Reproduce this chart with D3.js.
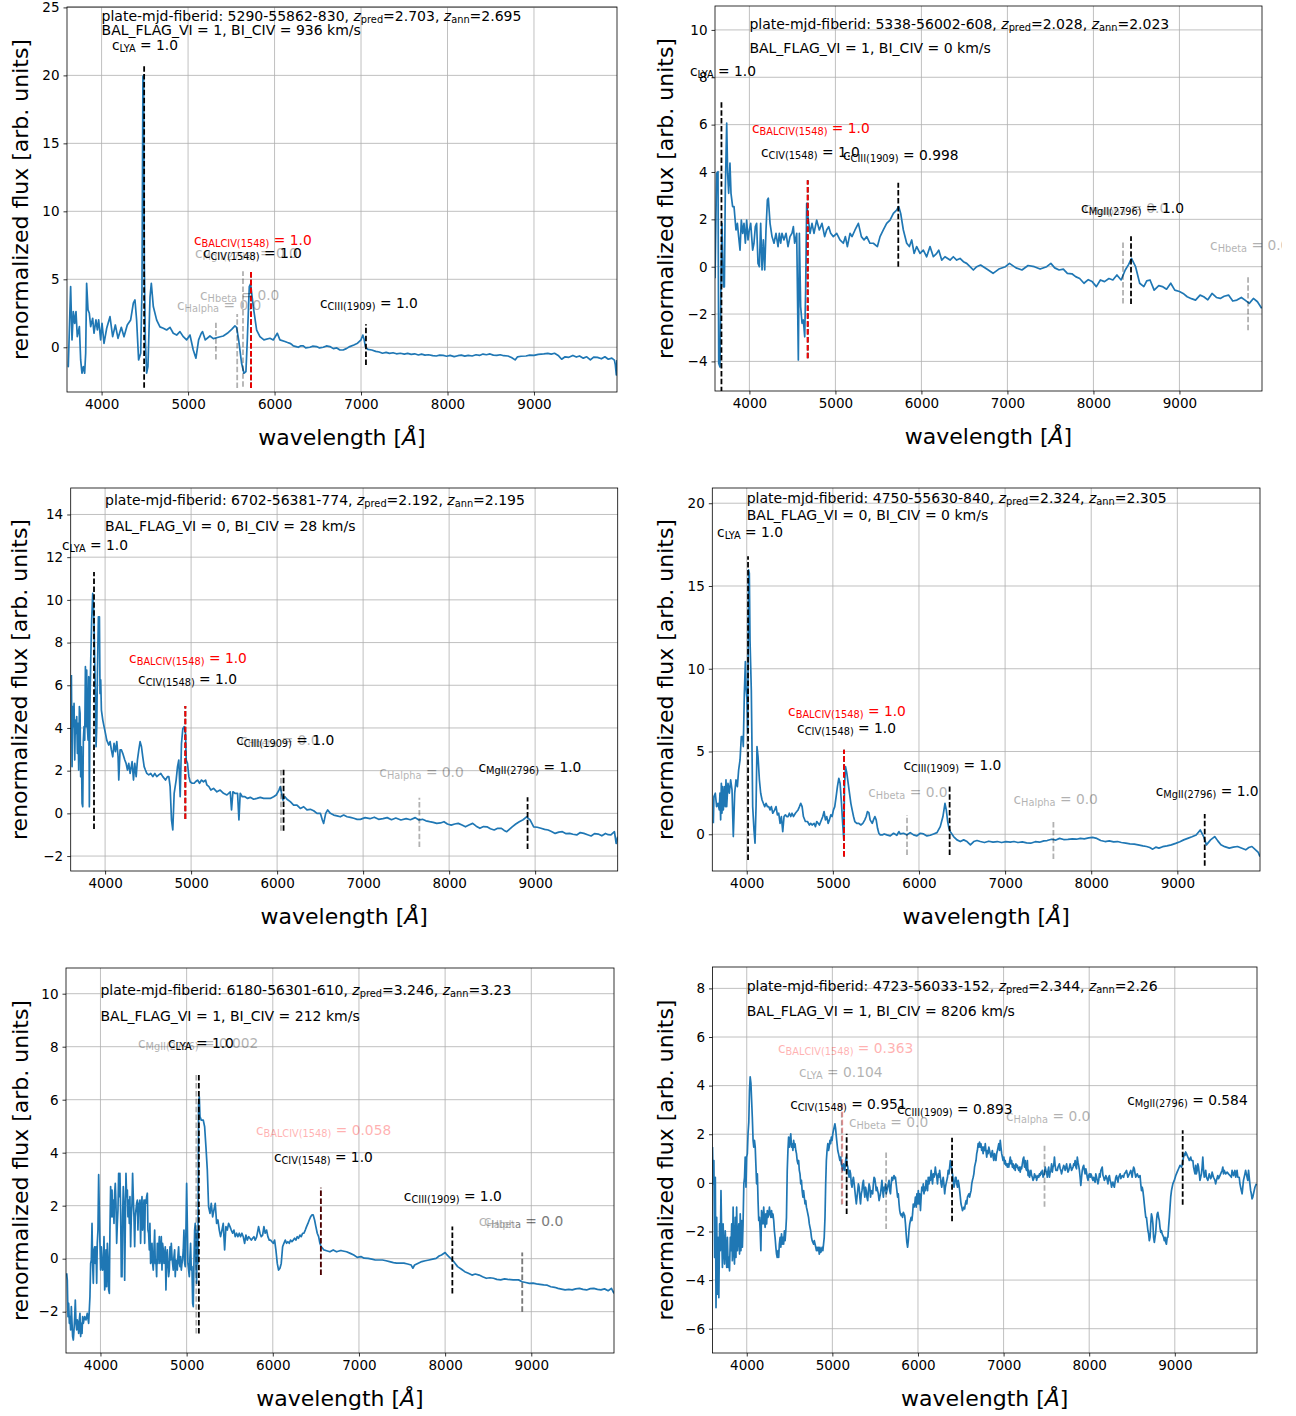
<!DOCTYPE html>
<html>
<head>
<meta charset="utf-8">
<script src="https://cdn.jsdelivr.net/npm/d3@7"></script>
<style>
  body { margin: 0; background: #fff; }
  text { font-family: "DejaVu Sans", sans-serif; }
</style>
</head>
<body>
<svg id="fig" width="1296" height="1416"></svg>
<script>
// ---- data ----
var plateIds = ["5290-55862-830", "5338-56002-608", "6702-56381-774", "4750-55630-840", "6180-56301-610", "4723-56033-152"];
var zPred = ["2.703", "2.028", "2.192", "2.324", "3.246", "2.344"];
var zAnn = ["2.695", "2.023", "2.195", "2.305", "3.23", "2.26"];
var balFlag = [1, 1, 0, 0, 1, 1];
var biCiv = [936, 0, 28, 0, 212, 8206];

var xTicks = [4000, 5000, 6000, 7000, 8000, 9000];
var yTicks1 = [0, 5, 10, 15, 20, 25];
var yTicks2 = [-4, -2, 0, 2, 4, 6, 8, 10];
var yTicks3 = [-2, 0, 2, 4, 6, 8, 10, 12, 14];
var yTicks4 = [0, 5, 10, 15, 20];
var yTicks5 = [-2, 0, 2, 4, 6, 8, 10];
var yTicks6 = [-6, -4, -2, 0, 2, 4, 6, 8];

// [wavelength, flux]
var spec1 = [[3610,-1.4],[3615,-1.42],[3642,4.46],[3658,0.54],[3673,2.62],[3689,1.76],[3704,2.62],[3719,0.78],[3743,1.52],[3758,-0.93],[3773,-1.91],[3789,-1.42],[3804,-1.91],[3816,-0.44],[3827,4.71],[3843,2.75],[3858,2.5],[3874,1.52],[3897,2.13],[3912,1.03],[3935,2.01],[3951,1.27],[3966,2.01],[3989,0.54],[4005,1.76],[4028,0.29],[4059,1.4],[4097,2.25],[4128,0.78],[4159,1.64],[4190,0.66],[4228,1.47],[4259,0.78],[4297,1.64],[4336,2.01],[4367,3.24],[4386,3.48],[4405,2.01],[4428,-0.93],[4452,-0.44],[4467,4.2],[4478,19.9],[4486,20.0],[4494,6.0],[4506,0.5],[4521,-1.9],[4536,-1.42],[4560,3.7],[4575,4.7],[4598,3.0],[4637,2.0],[4675,1.5],[4714,1.4],[4752,1.27],[4791,1.47],[4829,1.03],[4868,0.9],[4906,1.15],[4945,0.78],[4983,0.54],[5022,0.9],[5060,-0.2],[5091,-0.8],[5122,0.54],[5153,1.03],[5168,1.15],[5199,0.54],[5253,0.83],[5292,0.64],[5350,0.74],[5407,0.83],[5454,1.03],[5504,1.32],[5542,1.57],[5561,1.47],[5585,0.54],[5619,-1.18],[5646,-1.91],[5669,-1.79],[5685,0.54],[5708,4.46],[5723,4.66],[5754,2.99],[5793,1.27],[5831,0.78],[5877,0.54],[5947,0.66],[5985,0.54],[6032,1.03],[6062,0.54],[6120,0.42],[6150,0.35],[6178,0.29],[6200,0.2],[6217,0.1],[6250,0.05],[6274,0],[6300,0.1],[6332,0.1],[6360,-0.05],[6409,0],[6440,0.08],[6486,0.05],[6520,-0.05],[6563,0],[6600,0.1],[6640,0.05],[6680,-0.1],[6720,-0.05],[6756,-0.2],[6793,-0.2],[6830,-0.1],[6870,0.05],[6917,0.17],[6960,0.3],[7000,0.55],[7021,0.9],[7035,0.6],[7050,0.04],[7080,-0.15],[7124,-0.2],[7170,-0.3],[7210,-0.35],[7248,-0.44],[7290,-0.38],[7330,-0.45],[7370,-0.4],[7410,-0.48],[7455,-0.44],[7500,-0.5],[7540,-0.45],[7580,-0.52],[7620,-0.48],[7663,-0.57],[7700,-0.5],[7740,-0.58],[7780,-0.55],[7830,-0.62],[7870,-0.64],[7910,-0.58],[7950,-0.6],[7990,-0.66],[8030,-0.6],[8077,-0.69],[8120,-0.62],[8160,-0.58],[8200,-0.65],[8240,-0.6],[8285,-0.64],[8330,-0.55],[8370,-0.6],[8410,-0.5],[8450,-0.55],[8492,-0.49],[8530,-0.58],[8570,-0.6],[8610,-0.55],[8650,-0.62],[8699,-0.64],[8740,-0.75],[8782,-0.93],[8810,-0.7],[8850,-0.66],[8907,-0.64],[8950,-0.58],[9000,-0.6],[9050,-0.52],[9114,-0.49],[9160,-0.45],[9200,-0.5],[9238,-0.44],[9280,-0.6],[9320,-0.88],[9360,-0.7],[9403,-0.74],[9450,-0.6],[9490,-0.72],[9527,-0.64],[9570,-0.8],[9610,-0.7],[9652,-0.93],[9690,-0.72],[9734,-0.74],[9780,-0.85],[9820,-0.7],[9859,-0.88],[9900,-0.8],[9930,-0.95],[9941,-1.3],[9952,-2.04],[9960,-0.93]];

var spec2 = [[3600,-0.49],[3619,3.94],[3635,4.01],[3643,-4.08],[3658,-4.23],[3670,-0.42],[3681,1.83],[3697,-0.85],[3709,-0.85],[3720,3.24],[3736,6.06],[3747,3.94],[3759,3.1],[3774,4.37],[3786,3.1],[3805,2.54],[3821,2.54],[3844,1.55],[3860,1.83],[3875,1.27],[3891,0.7],[3906,1.97],[3922,1.41],[3937,1.83],[3953,0.99],[3968,1.97],[3984,1.13],[3999,1.55],[4015,1.83],[4038,0.7],[4053,0.99],[4069,1.69],[4084,1.83],[4100,0.14],[4116,0],[4131,1.83],[4147,-0.14],[4162,1.13],[4178,-0.14],[4193,1.55],[4209,2.82],[4220,2.89],[4240,1.83],[4263,1.27],[4286,0.99],[4309,1.41],[4333,0.85],[4348,1.41],[4364,0.99],[4379,1.41],[4402,1.13],[4426,1.41],[4449,0.85],[4472,1.27],[4495,1.41],[4511,1.69],[4526,0.99],[4550,1.41],[4569,-3.94],[4581,1.41],[4596,-1.69],[4612,-2.39],[4627,-2.25],[4643,-2.96],[4654,-0.99],[4666,2.68],[4681,2.11],[4705,1.41],[4728,1.83],[4751,1.41],[4782,1.97],[4813,1.55],[4844,1.83],[4875,1.27],[4898,1.55],[4922,1.69],[4945,1.41],[4976,1.27],[5015,1.41],[5053,1.13],[5092,0.99],[5116,1.27],[5139,0.85],[5170,1.41],[5193,1.27],[5228,1.55],[5267,1.83],[5302,1.27],[5333,1.13],[5364,1.27],[5402,0.99],[5441,0.99],[5488,0.85],[5519,1.27],[5557,1.55],[5596,1.83],[5635,1.97],[5674,2.25],[5712,2.39],[5736,2.54],[5759,2.25],[5790,1.55],[5829,0.99],[5860,0.85],[5887,1.13],[5915,0.56],[5945,0.85],[5984,0.56],[6022,0.7],[6061,0.42],[6100,0.85],[6139,0.42],[6178,0.56],[6201,0.7],[6236,0.28],[6274,0.42],[6333,0.28],[6371,0.42],[6410,0.28],[6449,0.35],[6488,0.21],[6526,0.14],[6565,0],[6604,-0.14],[6643,0],[6688,0.07],[6760,-0.1],[6833,-0.28],[6900,-0.1],[6977,0],[7024,0.14],[7100,-0.05],[7169,-0.14],[7240,0.05],[7313,0],[7380,-0.1],[7457,0],[7505,0.14],[7550,-0.05],[7601,-0.14],[7650,-0.1],[7697,-0.28],[7750,-0.3],[7793,-0.42],[7840,-0.5],[7890,-0.7],[7940,-0.55],[7985,-0.63],[8034,-0.84],[8081,-0.56],[8129,-0.63],[8180,-0.5],[8226,-0.56],[8273,-0.35],[8322,-0.56],[8370,-0.14],[8410,0.1],[8442,0.35],[8490,0],[8538,-0.7],[8586,-0.84],[8620,-0.6],[8658,-0.56],[8706,-0.99],[8760,-0.8],[8802,-0.84],[8850,-0.95],[8899,-0.7],[8946,-0.99],[9000,-1.05],[9043,-1.13],[9090,-1.27],[9140,-1.35],[9187,-1.41],[9240,-1.2],[9283,-1.27],[9330,-1.4],[9379,-1.13],[9430,-1.3],[9475,-1.34],[9520,-1.25],[9571,-1.2],[9620,-1.45],[9668,-1.41],[9720,-1.3],[9763,-1.41],[9812,-1.55],[9860,-1.34],[9907,-1.48],[9956,-1.76]];

var spec3 = [[3608,6.48],[3616,2.19],[3623,5.0],[3631,4.06],[3639,5.15],[3647,2.5],[3654,4.37],[3662,3.75],[3670,4.53],[3678,2.81],[3685,4.22],[3693,2.03],[3701,5.0],[3709,4.68],[3716,1.72],[3724,3.12],[3732,0.47],[3740,0.31],[3747,3.43],[3755,4.06],[3763,3.43],[3771,6.87],[3779,4.06],[3786,6.71],[3794,4.06],[3802,3.43],[3810,6.4],[3817,0.31],[3825,5.31],[3833,7.18],[3844,9.06],[3856,10.3],[3864,9.84],[3872,8.74],[3879,7.18],[3887,5.62],[3895,3.12],[3903,4.06],[3910,6.4],[3922,9.21],[3934,9.21],[3941,5.62],[3949,6.25],[3957,4.84],[3973,4.37],[3988,4.06],[4004,3.75],[4019,3.43],[4042,3.2],[4058,3.36],[4073,2.97],[4089,2.65],[4104,3.28],[4120,2.89],[4136,3.36],[4151,2.65],[4159,1.56],[4174,2.97],[4190,2.97],[4205,2.81],[4229,2.5],[4244,2.34],[4260,2.03],[4275,2.34],[4291,1.87],[4314,2.42],[4330,1.56],[4345,2.34],[4361,1.72],[4376,2.5],[4392,2.97],[4407,3.36],[4423,3.12],[4438,2.65],[4454,2.19],[4469,2.03],[4485,1.87],[4508,1.8],[4531,1.87],[4555,1.72],[4578,1.87],[4601,1.72],[4624,1.8],[4648,1.87],[4671,1.72],[4702,1.56],[4725,1.72],[4741,1.72],[4756,1.25],[4772,-0.31],[4787,-0.78],[4803,0.94],[4826,1.56],[4842,2.19],[4857,2.5],[4873,0.78],[4888,3.28],[4904,3.98],[4919,4.06],[4935,3.75],[4943,2.5],[4958,2.34],[4974,1.72],[4989,1.48],[5012,1.41],[5036,1.41],[5051,1.48],[5075,1.56],[5098,1.41],[5121,1.56],[5144,1.48],[5168,1.56],[5183,1.33],[5207,1.25],[5230,1.09],[5261,1.17],[5300,1.01],[5338,1.09],[5377,0.94],[5416,0.86],[5455,1.01],[5470,0.16],[5486,1.01],[5509,0.94],[5540,0.94],[5556,-0.31],[5571,0.94],[5595,0.78],[5626,0.78],[5657,0.7],[5688,0.75],[5727,0.66],[5765,0.7],[5804,0.75],[5843,0.7],[5882,0.7],[5920,0.7],[5959,0.78],[5990,0.86],[6021,1.09],[6037,1.25],[6052,0.94],[6068,0.62],[6091,0.78],[6115,0.66],[6153,0.55],[6192,0.39],[6231,0.39],[6270,0.23],[6309,0.31],[6347,0.16],[6386,0.19],[6425,0.12],[6464,0],[6503,0],[6526,-0.31],[6541,-0.47],[6565,0],[6588,0.16],[6619,0],[6658,-0.08],[6697,-0.12],[6735,-0.16],[6774,-0.08],[6813,-0.16],[6852,-0.19],[6891,-0.23],[6930,-0.28],[6968,-0.28],[7023,-0.2],[7080,-0.25],[7130,-0.18],[7180,-0.28],[7231,-0.25],[7280,-0.2],[7330,-0.3],[7380,-0.22],[7439,-0.31],[7500,-0.25],[7550,-0.3],[7606,-0.2],[7648,-0.31],[7690,-0.28],[7730,-0.35],[7773,-0.39],[7815,-0.42],[7856,-0.47],[7900,-0.45],[7940,-0.39],[7980,-0.5],[8024,-0.55],[8065,-0.5],[8106,-0.47],[8150,-0.55],[8190,-0.63],[8230,-0.55],[8274,-0.47],[8315,-0.6],[8358,-0.7],[8400,-0.62],[8440,-0.63],[8480,-0.72],[8524,-0.78],[8565,-0.7],[8608,-0.7],[8640,-0.8],[8670,-0.86],[8700,-0.75],[8733,-0.63],[8775,-0.5],[8816,-0.39],[8860,-0.3],[8900,-0.16],[8941,-0.31],[8983,-0.63],[9025,-0.65],[9067,-0.7],[9110,-0.75],[9151,-0.78],[9190,-0.85],[9233,-0.94],[9275,-0.88],[9317,-0.86],[9360,-0.95],[9401,-0.94],[9440,-0.98],[9484,-1.01],[9525,-0.9],[9567,-0.94],[9610,-1.0],[9651,-1.06],[9690,-0.95],[9734,-0.97],[9775,-1.05],[9818,-0.94],[9850,-1.0],[9881,-1.01],[9922,-0.86],[9942,-1.41],[9960,-1.09]];

var spec4 = [[3612,0.66],[3619,2.28],[3635,2.48],[3650,1.67],[3666,1.87],[3681,1.47],[3689,2.48],[3697,0.87],[3705,3.08],[3712,1.27],[3720,2.88],[3728,1.47],[3743,2.88],[3751,1.67],[3759,3.28],[3767,1.67],[3782,3.08],[3798,2.48],[3813,3.28],[3829,2.68],[3844,-0.14],[3860,2.48],[3875,3.28],[3891,2.88],[3906,3.89],[3922,4.49],[3937,5.9],[3953,5.9],[3960,5.3],[3972,8.52],[3984,10.43],[3991,8.92],[4003,8.12],[4011,6.1],[4022,15.97],[4030,15.77],[4038,11.74],[4053,8.72],[4069,1.67],[4084,0.26],[4096,-0.54],[4108,1.67],[4119,5.3],[4131,4.69],[4147,3.28],[4162,2.48],[4178,2.07],[4193,1.87],[4209,1.67],[4224,1.87],[4240,1.67],[4255,1.67],[4271,1.47],[4286,1.67],[4302,1.27],[4325,1.47],[4340,1.67],[4356,1.17],[4371,1.27],[4387,0.66],[4402,1.07],[4418,0.16],[4433,1.07],[4449,1.17],[4464,1.07],[4480,1.07],[4495,1.27],[4511,1.07],[4526,1.27],[4542,1.07],[4565,1.27],[4581,1.37],[4596,1.47],[4612,1.67],[4627,1.87],[4643,1.67],[4658,1.07],[4681,0.77],[4705,0.77],[4728,0.56],[4743,0.66],[4759,0.56],[4782,0.66],[4798,0.46],[4813,0.77],[4829,0.66],[4844,0.56],[4860,0.77],[4883,1.07],[4898,1.37],[4914,0.87],[4929,1.07],[4945,0.66],[4960,0.87],[4976,1.17],[4991,1.07],[5007,1.47],[5022,1.67],[5038,2.28],[5053,2.88],[5069,3.38],[5084,3.08],[5100,1.87],[5116,0.46],[5127,-0.34],[5135,2.88],[5147,4.09],[5162,3.69],[5178,3.08],[5193,2.48],[5209,1.87],[5224,1.47],[5240,1.07],[5255,0.77],[5278,0.66],[5302,0.66],[5325,0.56],[5348,0.66],[5371,0.87],[5387,1.07],[5402,1.37],[5418,1.31],[5433,0.87],[5457,0.66],[5472,0.87],[5488,1.07],[5503,0.87],[5519,0.36],[5534,0.06],[5550,-0.04],[5573,-0.04],[5596,0.02],[5627,-0.04],[5666,-0.1],[5705,0.06],[5743,-0.06],[5767,0.16],[5782,0.02],[5821,0.06],[5860,-0.04],[5898,0.1],[5937,-0.04],[5976,-0.1],[6015,0.06],[6053,0.02],[6092,-0.1],[6131,-0.06],[6170,0.02],[6209,0.1],[6247,0.46],[6278,1.07],[6302,1.87],[6317,1.47],[6333,0.77],[6348,0.36],[6364,0.16],[6402,-0.14],[6441,-0.34],[6480,-0.44],[6519,-0.34],[6558,-0.44],[6597,-0.64],[6636,-0.44],[6674,-0.38],[6712,-0.44],[6760,-0.5],[6810,-0.42],[6860,-0.48],[6910,-0.44],[6959,-0.5],[7010,-0.45],[7060,-0.48],[7103,-0.44],[7150,-0.5],[7200,-0.46],[7250,-0.52],[7297,-0.54],[7350,-0.45],[7400,-0.48],[7450,-0.4],[7488,-0.38],[7540,-0.3],[7590,-0.35],[7633,-0.25],[7680,-0.32],[7729,-0.31],[7780,-0.28],[7830,-0.3],[7873,-0.25],[7920,-0.28],[7970,-0.22],[8016,-0.19],[8065,-0.25],[8110,-0.38],[8160,-0.44],[8210,-0.4],[8260,-0.46],[8306,-0.44],[8350,-0.5],[8401,-0.54],[8450,-0.58],[8500,-0.6],[8545,-0.64],[8600,-0.7],[8642,-0.74],[8680,-0.8],[8714,-0.9],[8750,-0.78],[8786,-0.84],[8830,-0.75],[8880,-0.7],[8930,-0.64],[8980,-0.55],[9030,-0.45],[9074,-0.34],[9120,-0.25],[9170,-0.15],[9219,-0.04],[9266,0.26],[9305,-0.14],[9338,-0.64],[9386,-0.34],[9434,-0.14],[9470,-0.4],[9506,-0.64],[9550,-0.75],[9603,-0.84],[9650,-0.78],[9699,-0.74],[9750,-0.85],[9794,-0.94],[9830,-0.8],[9866,-0.74],[9915,-0.98],[9940,-1.1],[9960,-1.35]];

var spec5 = [[3608,-0.55],[3615,-0.81],[3623,-2.19],[3631,-1.69],[3639,-2.44],[3646,-2.19],[3654,-2.69],[3662,-1.81],[3670,-2.44],[3677,-2.94],[3685,-3.07],[3693,-2.69],[3701,-2.19],[3708,-1.56],[3716,-2.44],[3724,-2.69],[3731,-2.31],[3739,-2.44],[3747,-2.82],[3755,-2.31],[3762,-2.06],[3770,-2.94],[3778,-2.44],[3786,-2.82],[3793,-2.19],[3801,-2.44],[3817,-2.19],[3832,-2.31],[3847,-2.06],[3863,-2.44],[3878,-1.43],[3886,-0.18],[3894,-0.05],[3902,1.33],[3909,-0.18],[3917,-0.93],[3925,0.33],[3933,0.45],[3940,-0.18],[3948,0.45],[3956,-0.93],[3963,0.58],[3971,1.08],[3979,3.17],[3987,1.71],[3994,0.58],[4002,-0.43],[4010,0.45],[4018,-0.18],[4025,-0.43],[4033,-0.18],[4041,0.83],[4049,-1.18],[4056,-0.93],[4064,0.33],[4072,-1.06],[4080,0.58],[4087,0.08],[4095,-1.18],[4103,-1.31],[4110,1.08],[4118,2.72],[4126,1.58],[4134,2.59],[4141,1.58],[4149,2.21],[4157,1.33],[4165,2.47],[4172,2.84],[4180,2.09],[4188,0.58],[4196,1.33],[4203,1.84],[4211,3.22],[4219,2.34],[4226,3.22],[4234,1.84],[4242,-0.68],[4250,-0.68],[4257,1.58],[4265,2.72],[4273,2.09],[4281,-0.81],[4288,1.08],[4296,3.22],[4304,2.34],[4312,2.59],[4319,1.58],[4327,2.21],[4335,1.33],[4342,2.34],[4350,0.45],[4358,1.58],[4366,2.09],[4373,3.22],[4381,2.34],[4389,1.58],[4397,0.45],[4404,1.58],[4412,1.84],[4420,2.09],[4428,2.21],[4435,1.08],[4443,2.09],[4451,2.09],[4458,2.21],[4466,0.58],[4474,1.84],[4482,2.34],[4489,1.08],[4497,1.58],[4505,2.21],[4513,0.58],[4520,2.21],[4528,2.09],[4536,2.34],[4544,2.47],[4551,1.08],[4559,0.96],[4567,0.33],[4574,1.33],[4582,-0.18],[4590,-0.05],[4598,0.58],[4605,-0.18],[4613,-0.43],[4621,0.33],[4629,1.08],[4636,-0.18],[4644,-0.05],[4652,-0.68],[4660,0.58],[4667,-0.18],[4675,0.33],[4683,0.83],[4690,-0.18],[4698,0.08],[4706,0.83],[4714,-0.43],[4721,0.58],[4729,0.33],[4737,-0.18],[4745,0.08],[4752,0.45],[4760,-1.18],[4768,0.08],[4776,0.33],[4783,-0.18],[4791,-0.68],[4799,-0.43],[4807,0.45],[4814,-0.05],[4822,0.58],[4830,0.08],[4837,-0.18],[4845,-0.43],[4853,0.08],[4861,0.33],[4868,-0.68],[4876,-0.05],[4884,-0.18],[4892,-0.43],[4899,0.08],[4907,0.45],[4915,-0.18],[4923,-0.3],[4930,0.08],[4938,-0.43],[4946,-0.18],[4953,-0.05],[4961,0.33],[4969,1.08],[4977,-0.18],[4984,-0.3],[4992,1.08],[5000,2.84],[5008,1.33],[5015,-0.18],[5023,-0.43],[5031,-0.68],[5039,0.08],[5046,0.58],[5054,-0.43],[5062,-0.3],[5070,-1.69],[5077,-1.81],[5085,-0.18],[5093,1.08],[5100,1.33],[5108,-0.18],[5116,-0.93],[5124,1.08],[5131,-0.18],[5139,5.86],[5147,6.11],[5155,5.36],[5170,5.23],[5193,5.23],[5209,4.98],[5224,4.23],[5240,3.35],[5255,1.96],[5271,1.71],[5286,2.09],[5302,1.58],[5317,1.84],[5332,2.09],[5348,1.33],[5363,1.46],[5379,1.08],[5394,0.83],[5410,1.08],[5425,1.33],[5441,0.33],[5456,1.21],[5472,1.08],[5487,1.33],[5503,1.21],[5518,1.08],[5534,0.96],[5549,1.08],[5564,0.83],[5580,0.96],[5595,0.83],[5611,0.96],[5626,0.83],[5642,0.96],[5657,0.83],[5673,0.58],[5688,0.89],[5704,0.7],[5719,0.83],[5735,0.77],[5750,0.7],[5766,0.77],[5781,0.83],[5796,0.7],[5812,0.81],[5835,1.21],[5851,0.96],[5866,0.83],[5882,0.89],[5897,1.21],[5912,0.96],[5928,1.08],[5943,0.83],[5959,0.7],[5974,0.7],[5990,0.64],[6005,0.58],[6021,0.7],[6036,0.33],[6052,-0.18],[6067,-0.43],[6083,-0.36],[6098,-0.18],[6114,0.45],[6129,0.58],[6145,0.7],[6160,0.58],[6175,0.64],[6191,0.58],[6206,0.7],[6222,0.64],[6237,0.7],[6253,0.77],[6268,0.7],[6284,0.83],[6299,0.77],[6315,0.89],[6330,0.83],[6346,0.96],[6361,0.96],[6377,1.08],[6392,1.21],[6408,1.33],[6423,1.46],[6439,1.58],[6454,1.65],[6469,1.65],[6485,1.46],[6500,1.21],[6516,0.96],[6532,0.83],[6547,0.58],[6562,0.45],[6578,0.39],[6593,0.33],[6624,0.3],[6663,0.26],[6701,0.33],[6740,0.26],[6779,0.3],[6800,0.3],[6856,0.26],[6900,0.2],[6940,0.14],[6980,0.05],[7023,0.08],[7060,0.02],[7106,0.01],[7150,-0.02],[7189,-0.05],[7230,-0.05],[7273,-0.05],[7315,-0.08],[7355,-0.11],[7400,-0.15],[7438,-0.17],[7480,-0.17],[7522,-0.17],[7565,-0.2],[7606,-0.24],[7625,-0.36],[7646,-0.24],[7688,-0.17],[7730,-0.11],[7770,-0.08],[7813,-0.05],[7855,-0.02],[7896,0.01],[7930,0.1],[7958,0.14],[8000,0.23],[8020,0.15],[8042,0.08],[8083,-0.05],[8110,-0.15],[8145,-0.3],[8190,-0.4],[8228,-0.49],[8270,-0.55],[8312,-0.62],[8350,-0.58],[8395,-0.62],[8435,-0.68],[8478,-0.74],[8520,-0.72],[8561,-0.74],[8600,-0.78],[8645,-0.8],[8690,-0.76],[8727,-0.78],[8790,-0.8],[8852,-0.8],[8894,-0.87],[8935,-0.9],[8977,-0.93],[9020,-0.92],[9060,-0.95],[9100,-0.97],[9144,-0.99],[9185,-1.0],[9226,-1.06],[9270,-1.08],[9310,-1.12],[9350,-1.15],[9393,-1.18],[9435,-1.16],[9475,-1.18],[9515,-1.14],[9559,-1.12],[9600,-1.16],[9642,-1.18],[9685,-1.13],[9726,-1.12],[9768,-1.16],[9808,-1.18],[9850,-1.14],[9892,-1.21],[9930,-1.12],[9960,-1.31]];

var spec6 = [[3600,1.47],[3608,-0.04],[3616,0.92],[3625,-3.07],[3633,0.23],[3641,-5.13],[3649,-1.42],[3658,-4.58],[3666,-2.24],[3674,-4.72],[3683,-1.69],[3691,-2.79],[3699,-0.32],[3708,-2.24],[3716,-3.48],[3724,-1.69],[3733,-2.79],[3741,-3.34],[3749,-1.97],[3758,-2.79],[3766,-3.48],[3774,-2.24],[3783,-3.48],[3791,-3.07],[3799,-3.62],[3808,-2.24],[3816,-2.79],[3824,-1.69],[3832,-3.2],[3841,-1.0],[3849,-2.79],[3857,-3.34],[3866,-1.42],[3874,-3.07],[3882,-1.0],[3891,-2.79],[3899,-2.24],[3907,-1.69],[3916,-2.93],[3924,-1.28],[3932,-2.79],[3941,-1.55],[3949,-2.65],[3957,-1.69],[3966,-0.04],[3974,0.23],[3982,1.06],[3991,-0.18],[3999,1.06],[4007,1.2],[4015,2.02],[4024,2.5],[4032,3.81],[4040,4.36],[4049,4.09],[4057,3.4],[4065,2.71],[4074,1.75],[4082,1.47],[4090,1.75],[4099,1.47],[4107,0.72],[4115,-0.04],[4124,0.37],[4132,-0.73],[4140,-1.55],[4149,-1.42],[4157,-1.97],[4165,-2.79],[4173,-1.14],[4182,-1.42],[4190,-1.69],[4198,-1.0],[4207,-1.55],[4215,-1.83],[4223,-1.28],[4232,-1.69],[4240,-1.14],[4248,-1.42],[4257,-1.28],[4265,-1.0],[4273,-1.28],[4282,-1.42],[4290,-1.14],[4298,-1.42],[4306,-1.28],[4315,-1.55],[4323,-1.97],[4331,-2.24],[4340,-2.65],[4348,-2.93],[4356,-3.07],[4365,-2.79],[4373,-3.07],[4381,-2.52],[4390,-2.24],[4398,-2.65],[4406,-2.1],[4415,-2.52],[4423,-2.24],[4431,-2.52],[4440,-1.97],[4448,-2.38],[4456,-1.97],[4464,-1.42],[4473,0.51],[4481,1.33],[4489,1.88],[4498,1.47],[4506,1.75],[4514,2.02],[4523,1.47],[4531,1.61],[4539,1.33],[4548,1.75],[4556,1.47],[4564,1.61],[4573,1.33],[4581,1.2],[4589,0.92],[4598,0.78],[4606,0.92],[4614,0.51],[4622,0.37],[4631,-0.04],[4639,0.1],[4647,-0.32],[4656,-0.59],[4664,-0.32],[4672,-0.59],[4681,-0.87],[4689,-0.73],[4697,-1.0],[4706,-1.14],[4714,-1.28],[4722,-1.42],[4731,-1.69],[4739,-1.83],[4747,-1.97],[4756,-2.24],[4764,-2.38],[4781,-2.52],[4789,-2.38],[4806,-2.65],[4814,-2.79],[4822,-2.65],[4830,-2.79],[4839,-2.65],[4847,-2.93],[4855,-2.65],[4864,-2.86],[4872,-2.79],[4880,-2.65],[4889,-2.79],[4897,-2.52],[4905,-2.24],[4914,-1.42],[4922,-0.04],[4930,0.92],[4938,1.33],[4947,1.61],[4955,1.33],[4963,1.47],[4972,1.75],[4980,1.61],[4988,1.88],[4997,1.75],[5005,2.02],[5013,2.16],[5022,2.3],[5030,2.43],[5038,2.23],[5047,1.88],[5055,1.61],[5063,1.33],[5072,1.2],[5080,1.06],[5088,0.92],[5097,1.06],[5105,0.78],[5113,0.65],[5121,0.51],[5130,0.78],[5138,0.65],[5146,0.51],[5155,0.92],[5163,1.06],[5171,0.78],[5180,0.65],[5188,0.37],[5196,0.23],[5205,0.51],[5213,0.37],[5221,-0.04],[5230,-0.18],[5238,0.1],[5246,0.23],[5255,-0.04],[5263,-0.32],[5271,-0.59],[5280,-0.87],[5288,-0.59],[5296,-0.32],[5304,-0.04],[5313,-0.18],[5321,-0.59],[5329,-0.87],[5338,-0.45],[5346,-0.32],[5354,-0.04],[5363,0.1],[5371,-0.32],[5379,-0.59],[5388,-0.18],[5396,-0.32],[5404,-0.59],[5413,-0.73],[5421,-0.32],[5429,-0.04],[5438,-0.18],[5446,-0.59],[5454,-0.32],[5471,-0.45],[5479,-0.04],[5487,0.23],[5496,0.17],[5504,-0.04],[5512,-0.32],[5521,-0.18],[5529,-0.32],[5537,-0.45],[5546,-0.73],[5554,-0.59],[5562,-0.45],[5571,-0.18],[5579,0.1],[5587,-0.32],[5596,-0.59],[5604,-0.18],[5612,-0.32],[5621,-0.04],[5629,-0.45],[5637,-0.32],[5645,-0.18],[5654,-0.04],[5662,0.1],[5670,-0.32],[5679,-0.45],[5687,-0.04],[5695,0.23],[5704,0.1],[5712,0.23],[5720,0.3],[5729,0.17],[5737,0.23],[5745,-0.04],[5754,-0.32],[5762,-0.59],[5770,-0.45],[5779,-0.87],[5787,-1.14],[5795,-1.28],[5804,-1.35],[5812,-1.28],[5820,-1.42],[5829,-1.21],[5837,-1.28],[5845,-1.35],[5854,-1.69],[5862,-2.1],[5870,-2.45],[5879,-2.65],[5887,-2.38],[5895,-1.97],[5904,-1.69],[5912,-1.55],[5920,-1.42],[5929,-1.55],[5937,-1.28],[5945,-0.87],[5954,-1.0],[5962,-0.87],[5970,-0.59],[5979,-1.0],[5987,-0.45],[5995,-0.87],[6004,-0.32],[6012,-0.87],[6020,-0.45],[6029,-1.14],[6037,-0.59],[6045,-0.18],[6054,-0.32],[6062,-0.04],[6070,-0.45],[6079,-0.18],[6087,-0.32],[6095,0.1],[6104,-0.04],[6112,-0.32],[6120,0.23],[6129,-0.04],[6137,0.23],[6145,0.1],[6154,0.51],[6162,0.23],[6170,-0.04],[6179,0.37],[6187,0.23],[6195,0.37],[6203,0.65],[6212,0.37],[6220,0.23],[6228,-0.04],[6237,0.37],[6245,0.23],[6253,0.51],[6262,0.23],[6270,-0.04],[6278,-0.18],[6287,0.1],[6295,0.23],[6303,-0.04],[6312,-0.45],[6320,-0.18],[6328,-0.04],[6337,0.1],[6345,0.23],[6353,0.51],[6362,0.37],[6370,0.65],[6378,0.92],[6387,0.78],[6395,0.51],[6403,0.37],[6412,0.1],[6420,-0.18],[6428,-0.04],[6437,0.23],[6445,0.23],[6453,-0.04],[6462,-0.18],[6470,0.1],[6478,-0.04],[6487,-0.32],[6495,-0.59],[6503,-0.87],[6512,-1.0],[6520,-1.14],[6528,-1.07],[6537,-1.0],[6545,-1.07],[6553,-0.87],[6562,-0.73],[6570,-0.87],[6578,-0.59],[6595,-0.45],[6603,-0.59],[6611,-0.45],[6620,-0.32],[6628,-0.04],[6636,0.1],[6645,0.23],[6653,0.37],[6661,0.65],[6669,0.78],[6678,0.92],[6686,1.2],[6694,1.33],[6703,1.61],[6711,1.47],[6719,1.68],[6728,1.47],[6736,1.61],[6744,1.33],[6753,1.47],[6761,1.2],[6769,1.47],[6778,1.33],[6786,1.61],[6794,1.33],[6803,1.06],[6811,1.33],[6819,1.2],[6828,1.47],[6836,1.33],[6844,1.2],[6853,1.06],[6861,1.2],[6869,1.33],[6878,1.06],[6886,0.92],[6894,1.2],[6903,1.06],[6911,0.92],[6919,1.2],[6928,1.33],[6936,1.47],[6944,1.61],[6953,1.33],[6961,1.75],[6969,1.47],[6978,1.2],[6986,1.06],[6994,0.92],[7003,1.06],[7011,0.78],[7019,0.92],[7028,0.72],[7036,0.78],[7044,0.65],[7053,0.78],[7061,0.65],[7069,0.85],[7078,1.06],[7086,0.78],[7094,0.92],[7103,0.65],[7111,0.78],[7119,0.58],[7128,0.72],[7136,0.51],[7144,0.78],[7153,0.65],[7161,0.72],[7169,0.58],[7178,0.51],[7186,0.65],[7194,0.44],[7203,0.65],[7211,0.58],[7219,0.78],[7228,0.99],[7236,1.06],[7244,0.65],[7253,0.92],[7261,0.58],[7269,0.51],[7278,0.92],[7286,0.3],[7294,0.51],[7303,0.23],[7311,0.37],[7319,0.51],[7328,0.3],[7336,0.23],[7344,0.1],[7353,0.17],[7361,0.37],[7369,0.23],[7377,0.3],[7386,0.1],[7394,0.23],[7402,0.3],[7411,0.23],[7419,0.37],[7427,0.3],[7436,0.44],[7444,0.37],[7452,0.51],[7461,0.23],[7469,0.3],[7477,0.37],[7486,0.65],[7494,0.51],[7502,0.44],[7511,0.23],[7519,0.51],[7527,0.65],[7536,0.23],[7544,0.44],[7552,0.51],[7561,0.78],[7569,0.44],[7577,0.65],[7586,0.72],[7594,1.06],[7602,0.72],[7611,0.51],[7627,0.51],[7636,0.65],[7652,0.78],[7661,0.58],[7669,0.51],[7677,0.37],[7686,0.51],[7702,0.72],[7711,0.65],[7719,0.51],[7727,0.65],[7736,0.78],[7744,0.58],[7752,0.44],[7761,0.51],[7769,0.65],[7777,0.78],[7786,0.65],[7794,0.51],[7811,0.65],[7819,0.78],[7827,0.72],[7836,0.92],[7844,0.65],[7852,0.58],[7861,1.06],[7869,0.85],[7877,0.72],[7886,0.51],[7894,0.23],[7902,-0.11],[7911,0.23],[7919,0.51],[7927,0.65],[7936,0.72],[7944,0.51],[7952,0.37],[7961,0.58],[7969,0.44],[7977,0.23],[7986,0.1],[7994,0.3],[8002,0.37],[8011,0.23],[8019,0.37],[8027,0.3],[8036,0.17],[8044,0.1],[8052,0.23],[8061,0.1],[8069,0.03],[8077,0.37],[8086,0.23],[8094,0.1],[8102,-0.04],[8111,0.1],[8119,0.37],[8127,0.23],[8136,0.51],[8144,0.58],[8152,0.65],[8161,0.3],[8169,0.23],[8177,0.1],[8186,0.17],[8194,0.3],[8202,0.23],[8211,0.1],[8219,-0.04],[8227,0.23],[8236,0.3],[8244,0.1],[8252,0.03],[8261,-0.18],[8269,-0.04],[8277,0.03],[8286,-0.11],[8294,-0.18],[8302,0.03],[8311,0.23],[8319,0.3],[8327,0.17],[8336,0.03],[8344,0.23],[8361,0.37],[8369,0.17],[8386,0.3],[8402,0.23],[8411,0.37],[8427,0.44],[8436,0.51],[8444,0.37],[8452,0.23],[8469,0.37],[8486,0.51],[8502,0.23],[8511,0.51],[8519,0.65],[8527,0.58],[8536,0.37],[8544,0.23],[8561,0.37],[8577,0.23],[8594,0.3],[8602,-0.04],[8611,-0.32],[8619,-0.18],[8627,-0.32],[8636,-0.59],[8644,-0.87],[8652,-1.14],[8661,-1.42],[8669,-1.42],[8677,-1.69],[8686,-1.97],[8694,-2.1],[8702,-2.38],[8711,-2.24],[8719,-1.69],[8727,-1.28],[8736,-1.42],[8744,-1.69],[8752,-2.24],[8761,-2.45],[8769,-2.24],[8777,-2.04],[8786,-1.55],[8794,-1.28],[8802,-1.21],[8811,-1.42],[8819,-1.55],[8827,-1.83],[8836,-2.04],[8844,-1.97],[8852,-2.1],[8861,-2.17],[8869,-2.24],[8877,-2.38],[8886,-2.24],[8894,-2.45],[8902,-2.52],[8911,-2.24],[8919,-2.24],[8927,-1.83],[8936,-1.42],[8944,-1.0],[8952,-0.59],[8961,-0.32],[8969,-0.18],[8977,-0.04],[8994,0.1],[9011,0.3],[9027,0.44],[9044,0.58],[9061,0.72],[9077,0.65],[9086,0.72],[9094,0.92],[9102,1.06],[9111,1.2],[9119,1.13],[9127,1.27],[9136,1.2],[9144,1.13],[9161,0.99],[9169,0.92],[9177,0.99],[9186,1.06],[9194,0.92],[9211,0.92],[9219,0.65],[9227,0.51],[9236,0.37],[9244,0.72],[9252,0.37],[9261,0.51],[9269,0.78],[9277,0.65],[9286,0.37],[9294,0.1],[9302,0.23],[9311,0.37],[9319,0.65],[9327,1.06],[9336,0.51],[9344,0.23],[9352,0.3],[9361,0.51],[9369,0.23],[9386,0.1],[9394,0.23],[9402,0.37],[9419,0.17],[9427,0.23],[9436,0.44],[9452,0.23],[9469,0.1],[9477,-0.04],[9486,0.1],[9502,0.3],[9511,0.17],[9527,0.3],[9544,0.44],[9552,0.51],[9561,0.65],[9569,0.37],[9577,0.51],[9594,0.37],[9611,0.44],[9627,0.37],[9644,0.3],[9661,0.23],[9669,0.51],[9686,0.3],[9702,0.51],[9711,0.23],[9727,0.51],[9736,0.23],[9752,0.23],[9761,-0.04],[9769,-0.18],[9777,-0.32],[9786,-0.45],[9794,-0.18],[9802,0.1],[9819,0.37],[9827,0.51],[9844,0.23],[9852,0.1],[9861,0.51],[9877,-0.04],[9886,-0.32],[9894,-0.45],[9902,-0.66],[9911,-0.59],[9927,-0.32],[9936,-0.18],[9952,-0.04]];

// emission-line markers: name, wavelength, confidence, dashed span (flux) and label anchor (data units)
var lines1 = [
  {n: "MgII(2796)", wl: 5635, c: 0.0, y0: -2.9, y1: 5.6, lx: 5080, ly: 6.93},
  {n: "Halpha", wl: 5322, c: 0.0, y0: -0.9, y1: 1.8, lx: 4872, ly: 3.11},
  {n: "Hbeta", wl: 5568, c: 0.0, y0: -3.0, y1: 2.45, lx: 5138, ly: 3.85},
  {n: "LYA", wl: 4492, c: 1.0, y0: -2.97, y1: 20.85, lx: 4120, ly: 22.2},
  {n: "CIV(1548)", wl: 5728, c: 1.0, y0: -3.0, y1: 5.6, lx: 5172, ly: 6.93},
  {n: "BALCIV(1548)", wl: 5728, c: 1.0, bal: true, y0: -3.0, y1: 5.6, lx: 5068, ly: 7.89},
  {n: "CIII(1909)", wl: 7057, c: 1.0, y0: -1.3, y1: 1.7, lx: 6525, ly: 3.26}
];
var lines2 = [
  {n: "Halpha", wl: 8344, c: 0.0, y0: -1.55, y1: 1.12, lx: 7889, ly: 2.47},
  {n: "Hbeta", wl: 9798, c: 0.0, y0: -2.68, y1: -0.35, lx: 9356, ly: 0.91},
  {n: "LYA", wl: 3675, c: 1.0, y0: -5.3, y1: 7.04, lx: 3309, ly: 8.26},
  {n: "CIV(1548)", wl: 4678, c: 1.0, y0: -3.87, y1: 3.65, lx: 4135, ly: 4.85},
  {n: "BALCIV(1548)", wl: 4678, c: 1.0, bal: true, y0: -3.87, y1: 3.65, lx: 4030, ly: 5.86},
  {n: "CIII(1909)", wl: 5731, c: 0.998, y0: 0, y1: 3.55, lx: 5088, ly: 4.71},
  {n: "MgII(2796)", wl: 8437, c: 1.0, y0: -1.58, y1: 1.29, lx: 7856, ly: 2.47}
];
var lines3 = [
  {n: "Hbeta", wl: 6045, c: 0.0, y0: -0.82, y1: 2.03, lx: 5571, ly: 3.43},
  {n: "Halpha", wl: 7654, c: 0.0, y0: -1.58, y1: 0.73, lx: 7189, ly: 1.94},
  {n: "LYA", wl: 3871, c: 1.0, y0: -0.73, y1: 11.3, lx: 3499, ly: 12.57},
  {n: "CIV(1548)", wl: 4933, c: 1.0, y0: -0.27, y1: 5.03, lx: 4384, ly: 6.29},
  {n: "BALCIV(1548)", wl: 4933, c: 1.0, bal: true, y0: -0.27, y1: 5.03, lx: 4279, ly: 7.27},
  {n: "CIII(1909)", wl: 6075, c: 1.0, y0: -0.81, y1: 2.11, lx: 5525, ly: 3.43},
  {n: "MgII(2796)", wl: 8912, c: 1.0, y0: -1.67, y1: 0.76, lx: 8341, ly: 2.18}
];
var lines4 = [
  {n: "Hbeta", wl: 5861, c: 0.0, y0: -1.25, y1: 1.17, lx: 5411, ly: 2.56},
  {n: "Halpha", wl: 7561, c: 0.0, y0: -1.5, y1: 0.86, lx: 7097, ly: 2.14},
  {n: "LYA", wl: 4015, c: 1.0, y0: -1.55, y1: 16.8, lx: 3655, ly: 18.27},
  {n: "CIV(1548)", wl: 5130, c: 1.0, y0: -1.35, y1: 5.1, lx: 4585, ly: 6.44},
  {n: "BALCIV(1548)", wl: 5130, c: 1.0, bal: true, y0: -1.35, y1: 5.1, lx: 4480, ly: 7.47},
  {n: "CIII(1909)", wl: 6356, c: 1.0, y0: -1.25, y1: 2.88, lx: 5819, ly: 4.2},
  {n: "MgII(2796)", wl: 9318, c: 1.0, y0: -1.91, y1: 1.23, lx: 8749, ly: 2.62}
];
var lines5 = [
  {n: "MgII(2796)", wl: 5112, c: 0.002, y0: -2.82, y1: 7.0, lx: 4435, ly: 8.14},
  {n: "Hbeta", wl: 8895, c: 0.0, y0: -2.0, y1: 0.23, lx: 8450, ly: 1.42},
  {n: "Halpha", wl: 8895, c: 0.0, y0: -2.0, y1: 0.23, lx: 8391, ly: 1.42},
  {n: "LYA", wl: 5142, c: 1.0, y0: -2.82, y1: 7.0, lx: 4783, ly: 8.14},
  {n: "CIV(1548)", wl: 6558, c: 1.0, y0: -0.62, y1: 2.68, lx: 6013, ly: 3.83},
  {n: "BALCIV(1548)", wl: 6558, c: 0.058, bal: true, y0: -0.62, y1: 2.68, lx: 5804, ly: 4.85},
  {n: "CIII(1909)", wl: 8084, c: 1.0, y0: -1.31, y1: 1.21, lx: 7521, ly: 2.37}
];
var lines6 = [
  {n: "LYA", wl: 5110, c: 0.104, y0: -0.9, y1: 3.26, lx: 4610, ly: 4.55},
  {n: "Hbeta", wl: 5628, c: 0.0, y0: -1.9, y1: 1.33, lx: 5193, ly: 2.52},
  {n: "Halpha", wl: 7478, c: 0.0, y0: -0.98, y1: 1.54, lx: 7028, ly: 2.73},
  {n: "BALCIV(1548)", wl: 5116, c: 0.363, bal: true, y0: -0.87, y1: 3.26, lx: 4365, ly: 5.54},
  {n: "CIV(1548)", wl: 5167, c: 0.951, y0: -1.28, y1: 2.02, lx: 4507, ly: 3.23},
  {n: "CIII(1909)", wl: 6398, c: 0.893, y0: -1.58, y1: 1.86, lx: 5755, ly: 3.02},
  {n: "MgII(2796)", wl: 9092, c: 0.584, y0: -0.9, y1: 2.16, lx: 8444, ly: 3.39}
];

// ---- layout ----
var panels = [
  {spec: spec1, lines: lines1, yTicks: yTicks1, x: 67, y: 7, w: 550, h: 385, yDom: [-3.29, 25.03], head: [24.36, 23.33], col: 0},
  {spec: spec2, lines: lines2, yTicks: yTicks2, x: 715, y: 6, w: 547, h: 385, yDom: [-5.25, 11.01], head: [10.25, 9.24], col: 1},
  {spec: spec3, lines: lines3, yTicks: yTicks3, x: 70.7, y: 488, w: 547, h: 383, yDom: [-2.70, 15.24], head: [14.67, 13.46], col: 0},
  {spec: spec4, lines: lines4, yTicks: yTicks4, x: 712.3, y: 488, w: 547.7, h: 383, yDom: [-2.22, 20.92], head: [20.32, 19.29], col: 1},
  {spec: spec5, lines: lines5, yTicks: yTicks5, x: 66, y: 968, w: 548, h: 385, yDom: [-3.56, 10.97], head: [10.14, 9.16], col: 0},
  {spec: spec6, lines: lines6, yTicks: yTicks6, x: 712.5, y: 967, w: 544.5, h: 386, yDom: [-7.0, 8.88], head: [8.1, 7.07], col: 1}
];
var xDom = [3600, 9960];
var FS = 13.8, SUB = 9.8, HFS = 14, TFS = 13.5, LFS = 22;

var svg = d3.select("#fig");
var defs = svg.append("defs");
defs.append("clipPath").attr("id", "colclip1")
  .append("rect").attr("x", 645).attr("y", 0).attr("width", 637).attr("height", 1416);

function fmtC(c) {
  return Number.isInteger(c) ? c.toFixed(1) : String(c);
}

function cLabel(g, x, y, sub, val, color, op) {
  var t = g.append("text")
    .attr("x", x).attr("y", y)
    .attr("fill", color).attr("opacity", op)
    .attr("font-size", FS)
    .attr("dominant-baseline", "central");
  t.append("tspan").text("c");
  t.append("tspan").attr("font-size", SUB).attr("dy", 3).text(sub);
  t.append("tspan").attr("dy", -3).text(" = " + val);
}

panels.forEach(function (p, i) {
  var root = svg.append("g");
  if (p.col === 1) root.attr("clip-path", "url(#colclip1)");
  var g = root.append("g").attr("transform", "translate(" + p.x + "," + p.y + ")");

  var x = d3.scaleLinear().domain(xDom).range([0, p.w]);
  var y = d3.scaleLinear().domain(p.yDom).range([p.h, 0]);

  defs.append("clipPath").attr("id", "ax" + i)
    .append("rect").attr("width", p.w).attr("height", p.h);

  // grid
  g.append("g").selectAll("line").data(xTicks).enter().append("line")
    .attr("x1", d => x(d)).attr("x2", d => x(d))
    .attr("y1", 0).attr("y2", p.h)
    .attr("stroke", "#b0b0b0").attr("stroke-width", 0.8);
  g.append("g").selectAll("line").data(p.yTicks).enter().append("line")
    .attr("x1", 0).attr("x2", p.w)
    .attr("y1", d => y(d)).attr("y2", d => y(d))
    .attr("stroke", "#b0b0b0").attr("stroke-width", 0.8);

  // axes
  var xa = g.append("g").attr("transform", "translate(0," + p.h + ")")
    .call(d3.axisBottom(x).tickValues(xTicks).tickFormat(d3.format("d")).tickSize(3.5).tickPadding(4));
  var ya = g.append("g")
    .call(d3.axisLeft(y).tickValues(p.yTicks).tickFormat(d3.format("d")).tickSize(3.5).tickPadding(4));
  [xa, ya].forEach(function (a) {
    a.select(".domain").remove();
    a.selectAll("text").attr("font-size", TFS).attr("font-family", "DejaVu Sans").attr("fill", "#000");
    a.selectAll("line").attr("stroke", "#000").attr("stroke-width", 0.8);
  });

  // spectrum
  var plot = g.append("g").attr("clip-path", "url(#ax" + i + ")");
  plot.append("path").datum(p.spec)
    .attr("d", d3.line().x(d => x(d[0])).y(d => y(d[1])))
    .attr("fill", "none").attr("stroke", "#1f77b4")
    .attr("stroke-width", 1.7).attr("stroke-linejoin", "round");

  // dashed line markers
  plot.selectAll("line.mk").data(p.lines).enter().append("line")
    .attr("class", "mk")
    .attr("x1", d => x(d.wl)).attr("x2", d => x(d.wl))
    .attr("y1", d => y(d.y0)).attr("y2", d => y(d.y1))
    .attr("stroke", d => d.bal ? "red" : "black")
    .attr("opacity", d => d.c >= 0.5 ? 1 : 0.3)
    .attr("stroke-width", 1.8)
    .attr("stroke-dasharray", "5.5,2.4");

  // labels
  p.lines.forEach(function (d) {
    cLabel(g, x(d.lx), y(d.ly), d.n, fmtC(d.c), d.bal ? "red" : "black", d.c >= 0.5 ? 1 : 0.3);
  });

  // header text
  var h1 = g.append("text").attr("x", x(4000)).attr("y", y(p.head[0]))
    .attr("font-size", HFS).attr("dominant-baseline", "central");
  h1.append("tspan").text("plate-mjd-fiberid: " + plateIds[i] + ", ");
  h1.append("tspan").attr("font-style", "italic").text("z");
  h1.append("tspan").attr("font-size", SUB).attr("dy", 3).text("pred");
  h1.append("tspan").attr("dy", -3).text("=" + zPred[i] + ", ");
  h1.append("tspan").attr("font-style", "italic").text("z");
  h1.append("tspan").attr("font-size", SUB).attr("dy", 3).text("ann");
  h1.append("tspan").attr("dy", -3).text("=" + zAnn[i]);
  g.append("text").attr("x", x(4000)).attr("y", y(p.head[1]))
    .attr("font-size", HFS).attr("dominant-baseline", "central")
    .text("BAL_FLAG_VI = " + balFlag[i] + ", BI_CIV = " + biCiv[i] + " km/s");

  // frame
  g.append("rect").attr("width", p.w).attr("height", p.h)
    .attr("fill", "none").attr("stroke", "#000").attr("stroke-width", 0.8);

  // axis titles
  var xl = g.append("text").attr("x", p.w / 2).attr("y", p.h + 45)
    .attr("text-anchor", "middle").attr("dominant-baseline", "central")
    .attr("font-size", LFS);
  xl.append("tspan").text("wavelength [");
  xl.append("tspan").attr("font-style", "italic").text("Å");
  xl.append("tspan").text("]");
  var lx = (p.col === 0 ? 20 : 665) - p.x;
  g.append("text")
    .attr("transform", "translate(" + lx + "," + (p.h / 2) + ") rotate(-90)")
    .attr("text-anchor", "middle").attr("dominant-baseline", "central")
    .attr("font-size", LFS)
    .text("renormalized flux [arb. units]");
});
</script>
</body>
</html>
